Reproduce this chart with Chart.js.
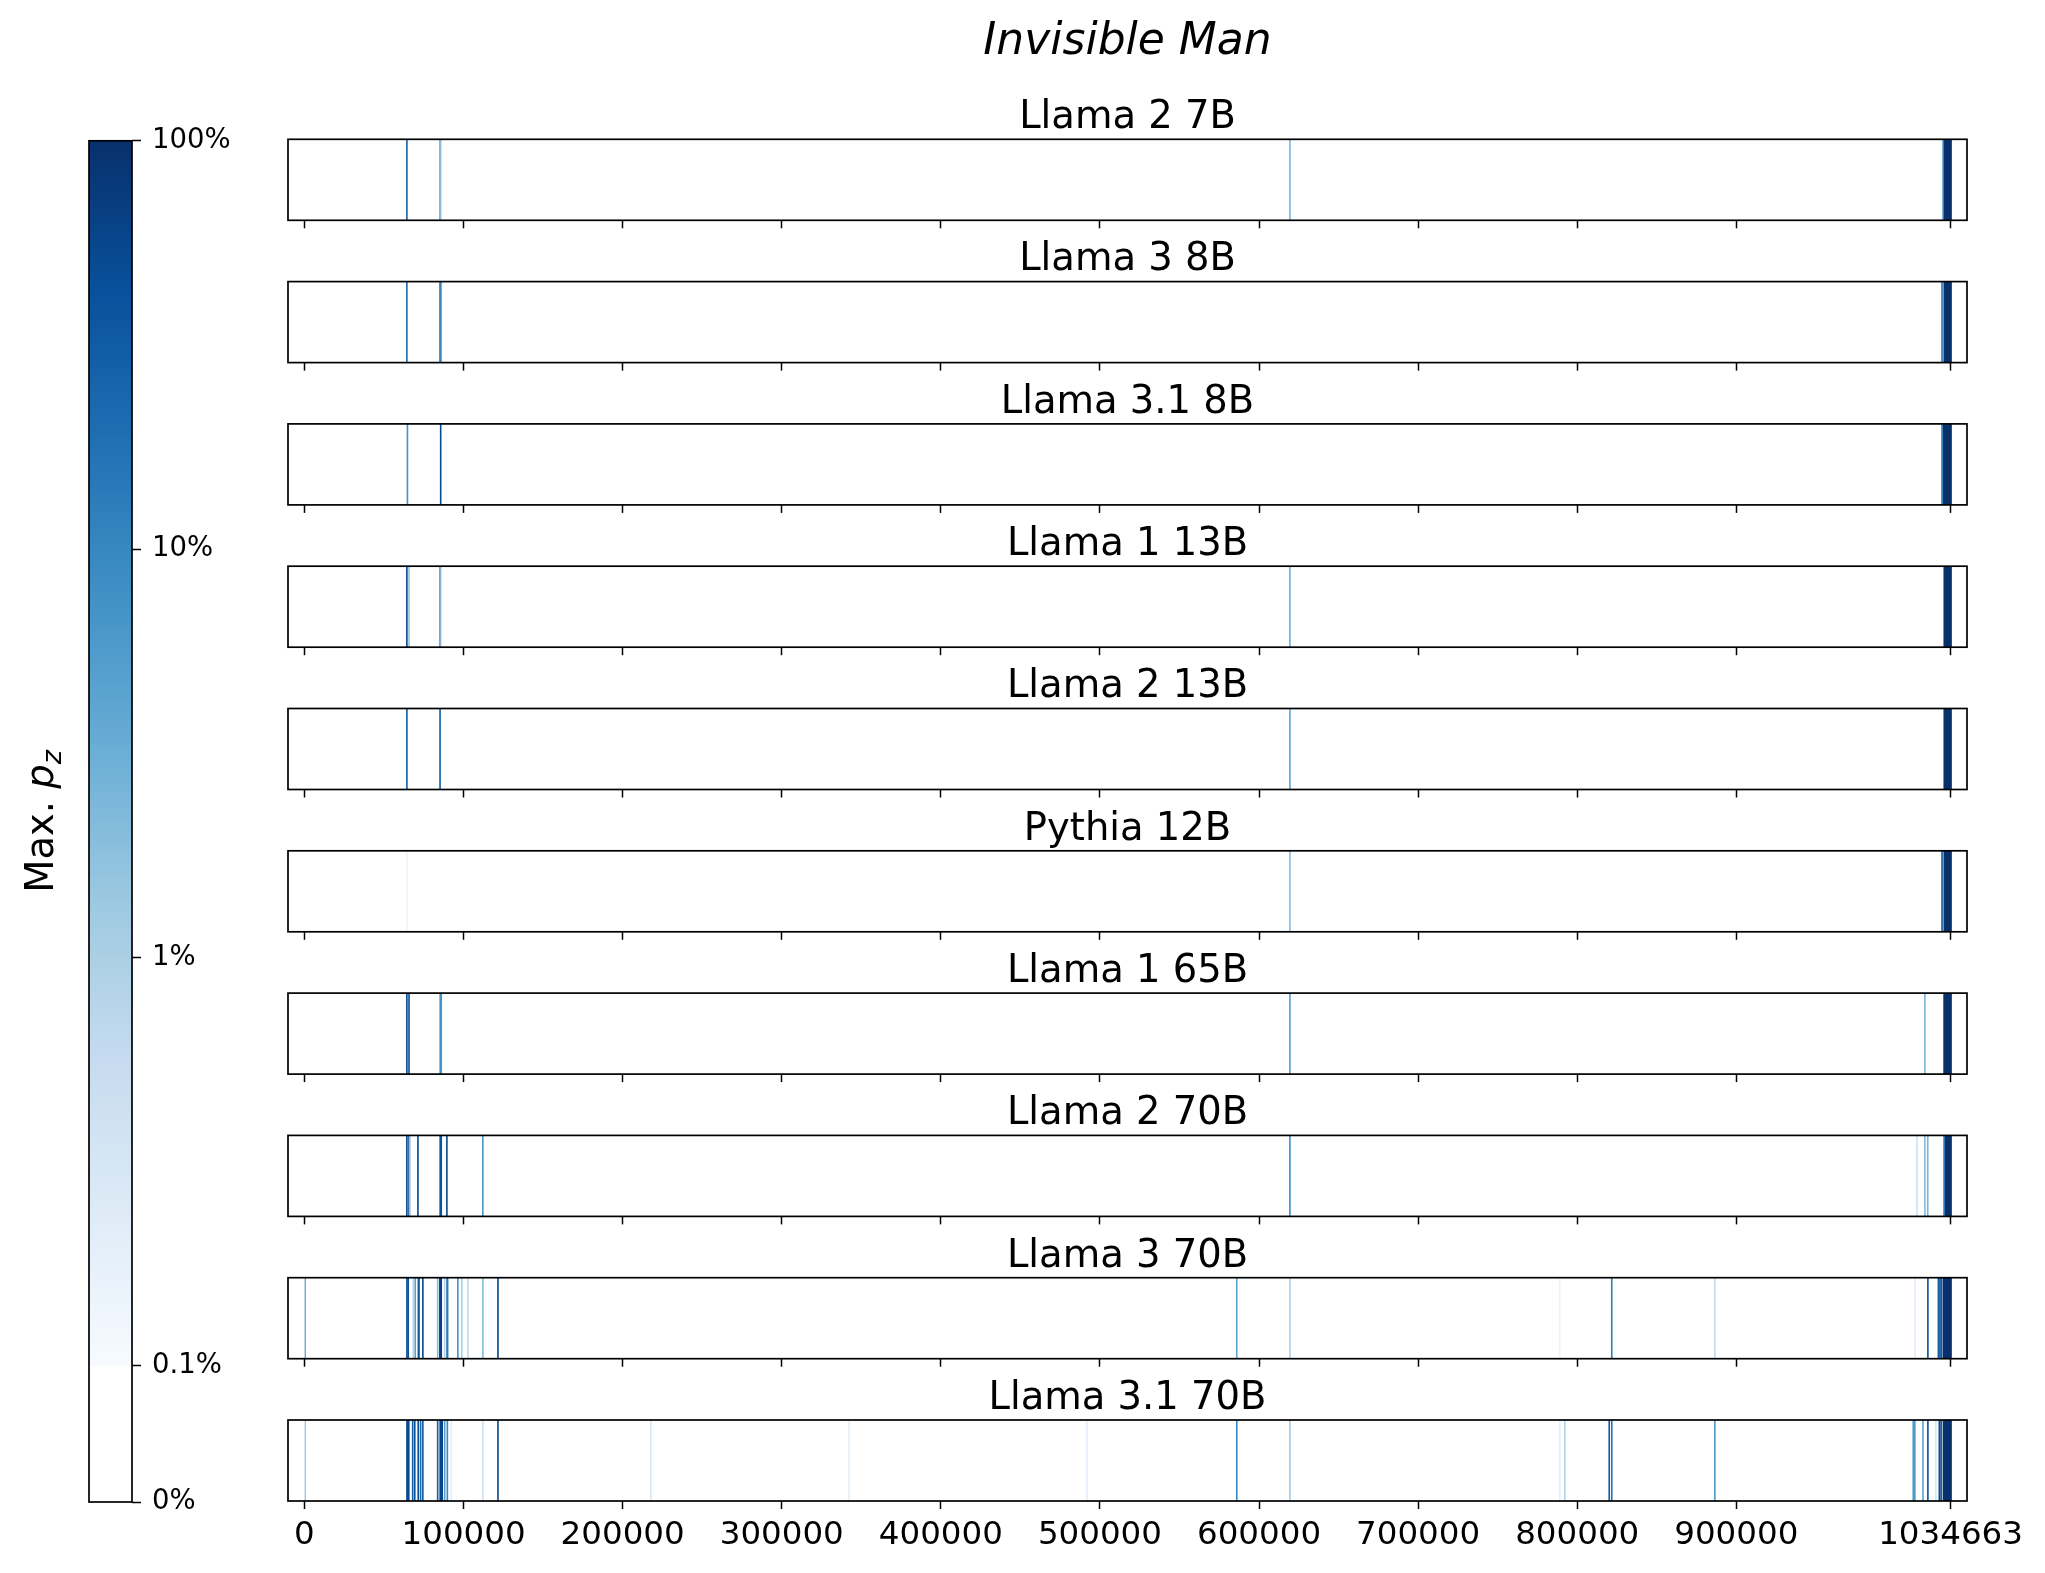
<!DOCTYPE html>
<html><head><meta charset="utf-8">
<script src="https://cdn.jsdelivr.net/npm/chart.js@4.4.1/dist/chart.umd.min.js"></script>
<style>
html,body{margin:0;padding:0;background:#fff;}
#fig{position:relative;width:2045px;height:1573px;overflow:hidden;background:#fff;}
#fig canvas{position:absolute;}
</style></head><body><div id="fig"></div>
<script>
// ---------------- data ----------------
const bookTitle = 'Invisible Man';
const bookLength = 1034663;
const models = ['Llama 2 7B','Llama 3 8B','Llama 3.1 8B','Llama 1 13B','Llama 2 13B','Pythia 12B','Llama 1 65B','Llama 2 70B','Llama 3 70B','Llama 3.1 70B'];
const xTickValues = [0,100000,200000,300000,400000,500000,600000,700000,800000,900000,1034663];
const xTickLabels = ['0','100000','200000','300000','400000','500000','600000','700000','800000','900000','1034663'];
const cbarTickValues = [0,0.001,0.01,0.1,1];
const cbarTickLabels = ['0%','0.1%','1%','10%','100%'];
const colorbarLabel = ['Max. ','p','z'];

// spans of the book (character offsets) and their max. p_z
const llama2_7b_spans = [[64050,64700],[85000,85650],[85650,86300],[619100,619750],[1029750,1030400],[1030400,1035300]];
const llama2_7b_p     = [0.25,0.1,0.004,0.025,0.12,1];
const llama3_8b_spans = [[64050,64700],[85000,85650],[85650,86300],[1029000,1029650],[1030400,1035300]];
const llama3_8b_p     = [0.2,0.6,0.03,0.15,1];
const llama31_8b_spans = [[64400,65050],[85300,85950],[1029000,1029650],[1029950,1035300]];
const llama31_8b_p     = [0.07,0.5,0.15,1];
const llama1_13b_spans = [[64050,64700],[65400,66050],[85000,85650],[85650,86300],[619100,619750],[1030400,1035300]];
const llama1_13b_p     = [0.5,0.015,0.2,0.003,0.03,1];
const llama2_13b_spans = [[64050,64700],[84900,85550],[619100,619750],[1030400,1035300]];
const llama2_13b_p     = [0.3,0.3,0.04,1];
const pythia_12b_spans = [[64050,64700],[619100,619750],[1029000,1029650],[1030400,1035300]];
const pythia_12b_p     = [0.0015,0.02,0.3,1];
const llama1_65b_spans = [[64050,64700],[65400,66050],[85000,86300],[619100,619750],[1018200,1018850],[1030300,1035300]];
const llama1_65b_p     = [0.5,0.4,0.07,0.05,0.025,1];
const llama2_70b_spans = [[64050,64700],[65400,66050],[66050,66700],[71000,71650],[85000,86300],[89200,89850],[111800,112450],[619100,619750],[1013200,1013850],[1018200,1018850],[1020000,1020650],[1030300,1030950],[1030950,1035300]];
const llama2_70b_p     = [0.6,0.5,0.008,0.5,0.4,0.5,0.06,0.08,0.004,0.02,0.025,0.15,1];
const llama3_70b_spans = [[0,650],[64100,64750],[64900,65550],[68100,68750],[69300,69950],[71300,72300],[74100,74750],[83400,84050],[84800,86300],[87800,88450],[89300,90300],[96100,96750],[98600,99250],[102400,103050],[111800,112450],[121300,121950],[585700,586350],[619100,619750],[788700,789350],[821400,822050],[886200,886850],[1011900,1012550],[1020100,1020750],[1026700,1027350],[1027700,1028350],[1028700,1029350],[1029900,1035300]];
const llama3_70b_p     = [0.07,0.5,0.4,0.008,0.05,0.4,0.5,0.02,0.7,0.008,0.15,0.07,0.01,0.006,0.02,0.5,0.04,0.01,0.0015,0.12,0.006,0.002,0.4,0.3,0.5,0.3,1];
const llama31_70b_spans = [[0,650],[64100,65900],[67700,68350],[69000,69650],[71200,71850],[72700,73350],[74100,74750],[83400,84050],[85000,86900],[87800,88450],[89500,90150],[91800,92450],[111800,112450],[121300,121950],[217400,218050],[342000,342650],[491500,492150],[585700,586350],[619100,619750],[788700,789350],[791900,792550],[819800,820450],[821400,822050],[886200,886850],[1010900,1011550],[1011900,1012550],[1017000,1017650],[1020100,1020750],[1025100,1025750],[1027300,1027950],[1028400,1029050],[1029900,1035300]];
const llama31_70b_p     = [0.02,0.5,0.3,0.4,0.5,0.2,0.3,0.3,0.6,0.05,0.1,0.002,0.004,0.5,0.003,0.002,0.002,0.1,0.012,0.002,0.008,0.3,0.15,0.06,0.06,0.06,0.04,0.4,0.003,0.5,0.5,1];

const panelSpans = [llama2_7b_spans,llama3_8b_spans,llama31_8b_spans,llama1_13b_spans,llama2_13b_spans,pythia_12b_spans,llama1_65b_spans,llama2_70b_spans,llama3_70b_spans,llama31_70b_spans];
const panelP = [llama2_7b_p,llama3_8b_p,llama31_8b_p,llama1_13b_p,llama2_13b_p,pythia_12b_p,llama1_65b_p,llama2_70b_p,llama3_70b_p,llama31_70b_p];

// ---------------- styling ----------------
const FAM = "'DejaVu Sans', sans-serif";
Chart.defaults.font.family = FAM;
Chart.defaults.color = '#000';
const BLUES = ['#f7fbff','#deebf7','#c6dbef','#9ecae1','#6baed6','#4292c6','#2171b5','#08519c','#08306b'];
function hex2rgb(h){return [parseInt(h.slice(1,3),16),parseInt(h.slice(3,5),16),parseInt(h.slice(5,7),16)];}
function blues(t){
  t = Math.max(0, Math.min(1, t));
  const s = t*8, i = Math.min(7, Math.floor(s)), f = s - i;
  const a = hex2rgb(BLUES[i]), b = hex2rgb(BLUES[i+1]);
  const c = a.map((v,k)=>Math.round(v + (b[k]-v)*f));
  return `rgb(${c[0]},${c[1]},${c[2]})`;
}
const LINTHRESH = 0.001, DECADE_U = 3;
function cbarU(p){ return p < LINTHRESH ? p/LINTHRESH : 1 + DECADE_U*Math.log10(p/LINTHRESH); }
const U_MAX = cbarU(1);
function colorFor(p){ return p < LINTHRESH ? '#ffffff' : blues((cbarU(p)-1)/(U_MAX-1)); }

const fig = document.getElementById('fig');
function makeCanvas(left, top, w, h){
  const c = document.createElement('canvas');
  c.width = w; c.height = h;
  c.style.left = left+'px'; c.style.top = top+'px';
  c.style.width = w+'px'; c.style.height = h+'px';
  fig.appendChild(c);
  return c;
}
const framePlugin = {
  id: 'frame',
  afterDraw(chart){
    const a = chart.chartArea, ctx = chart.ctx;
    ctx.save(); ctx.strokeStyle = '#000'; ctx.lineWidth = 1.7;
    ctx.strokeRect(a.left, a.top, a.right-a.left, a.bottom-a.top);
    ctx.restore();
  }
};

// ---------------- colorbar ----------------
const CB_W = 258;
const cbCanvas = makeCanvas(0, 0, CB_W, 1573);
const cbLabelPlugin = {
  id: 'cbLabel',
  afterDraw(chart){
    const ctx = chart.ctx, a = chart.chartArea;
    ctx.save();
    ctx.translate(39, (a.top + a.bottom)/2);
    ctx.rotate(-Math.PI/2);
    ctx.fillStyle = '#000'; ctx.textBaseline = 'alphabetic'; ctx.textAlign = 'left';
    const f1 = `38.5px ${FAM}`, f2 = `italic 38.5px ${FAM}`, f3 = `italic 27px ${FAM}`;
    ctx.font = f1; const w1 = ctx.measureText(colorbarLabel[0]).width;
    ctx.font = f2; const w2 = ctx.measureText(colorbarLabel[1]).width;
    ctx.font = f3; const w3 = ctx.measureText(colorbarLabel[2]).width;
    let x = -(w1+w2+w3)/2; const b = 14;
    ctx.font = f1; ctx.fillText(colorbarLabel[0], x, b); x += w1;
    ctx.font = f2; ctx.fillText(colorbarLabel[1], x, b); x += w2;
    ctx.font = f3; ctx.fillText(colorbarLabel[2], x, b + 8);
    ctx.restore();
  }
};
new Chart(cbCanvas, {
  type: 'bar',
  data: { labels: [''], datasets: [{
    data: [[0, U_MAX]],
    backgroundColor: (c) => {
      const ca = c.chart.chartArea; if (!ca) return '#ffffff';
      const g = c.chart.ctx.createLinearGradient(0, ca.bottom, 0, ca.top);
      const f0 = cbarU(LINTHRESH)/U_MAX;
      g.addColorStop(0, '#ffffff'); g.addColorStop(f0, '#ffffff');
      for (let k = 0; k < BLUES.length; k++) g.addColorStop(f0 + (1-f0)*k/(BLUES.length-1), BLUES[k]);
      return g;
    },
    borderWidth: 0, barPercentage: 1, categoryPercentage: 1, inflateAmount: 0
  }]},
  options: {
    responsive: false, animation: false, devicePixelRatio: 1,
    layout: { padding: { left: 89, right: 26, top: 140.8, bottom: 71 } },
    plugins: { legend: {display:false}, tooltip: {enabled:false}, title: {display:false} },
    scales: {
      x: { display: false },
      y: { type: 'linear', position: 'right', min: 0, max: U_MAX,
        afterBuildTicks: s => { s.ticks = cbarTickValues.map(v => ({value: cbarU(v)})); },
        afterFit: s => { s.width = 100; },
        ticks: { callback: (v, i) => cbarTickLabels[i], font: {size: 27.5}, color: '#000', padding: 11, autoSkip: false },
        grid: { display: true, drawOnChartArea: false, drawTicks: true, tickLength: 9, tickWidth: 1.5, tickColor: '#000', color: '#000' },
        border: { display: false }
      }
    }
  },
  plugins: [framePlugin, cbLabelPlugin]
});

// ---------------- panels ----------------
const CV_LEFT = 258, PAD_L = 30, AX_L = 288, AX_R = 1967;
const CV_W = 2045 - CV_LEFT, PAD_R = CV_W - PAD_L - (AX_R - AX_L);
const TOP0 = 139.3, STEP = 142.3, PH = 81;
const SUB_SIZE = 38.5, SUB_LH = 1.1, SUB_PB = 0, SUB_BLOCK = SUB_SIZE*SUB_LH + SUB_PB;
const SUP_SIZE = 44, SUP_PT = 16;
const xMin = -0.01*bookLength, xMax = 1.01*bookLength;

models.forEach((name, i) => {
  const top = TOP0 + i*STEP;
  const last = i === models.length - 1;
  const XH = last ? 60 : 10;
  let cvTop, padTop, supPB = 0;
  if (i === 0) { cvTop = 0; padTop = 0; supPB = top - SUB_BLOCK - SUP_PT - SUP_SIZE*1.2; }
  else { cvTop = Math.floor(top - SUB_BLOCK - 1); padTop = top - SUB_BLOCK - cvTop; }
  const cvBottom = last ? 1573 : Math.ceil(top + PH + XH + 1);
  const cvH = cvBottom - cvTop;
  const padBottom = cvH - (top + PH - cvTop) - XH;
  const canvas = makeCanvas(CV_LEFT, cvTop, CV_W, cvH);

  const spans = panelSpans[i], ps = panelP[i];
  const order = spans.map((s, k) => k).sort((a, b) => ps[a] - ps[b]);
  const datasets = order.map(k => ({
    data: [spans[k]],
    backgroundColor: colorFor(ps[k]),
    borderWidth: 0, grouped: false, barPercentage: 1, categoryPercentage: 1, inflateAmount: 0.3
  }));

  new Chart(canvas, {
    type: 'bar',
    data: { labels: [''], datasets },
    options: {
      indexAxis: 'y', responsive: false, animation: false, devicePixelRatio: 1,
      layout: { padding: { left: PAD_L, right: PAD_R, top: padTop, bottom: padBottom } },
      plugins: {
        legend: { display: false }, tooltip: { enabled: false },
        title: { display: i === 0, text: bookTitle, color: '#000',
          font: { size: SUP_SIZE, style: 'italic', weight: 'normal', lineHeight: 1.2 }, padding: { top: SUP_PT, bottom: supPB } },
        subtitle: { display: true, text: name, color: '#000',
          font: { size: SUB_SIZE, weight: 'normal', lineHeight: SUB_LH }, padding: { top: 0, bottom: SUB_PB } }
      },
      scales: {
        y: { display: false },
        x: { type: 'linear', min: xMin, max: xMax, position: 'bottom',
          afterBuildTicks: s => { s.ticks = xTickValues.map(v => ({value: v})); },
          afterFit: s => { s.height = XH; },
          ticks: { display: last, autoSkip: false, maxRotation: 0, minRotation: 0, padding: 7,
            font: { size: 32.5 }, color: '#000', callback: (v, idx) => xTickLabels[idx] },
          grid: { display: true, drawOnChartArea: false, drawTicks: true, tickLength: 8, tickWidth: 1.5, tickColor: '#000', color: '#000' },
          border: { display: false }
        }
      }
    },
    plugins: [framePlugin]
  });
});
</script>
</body></html>
